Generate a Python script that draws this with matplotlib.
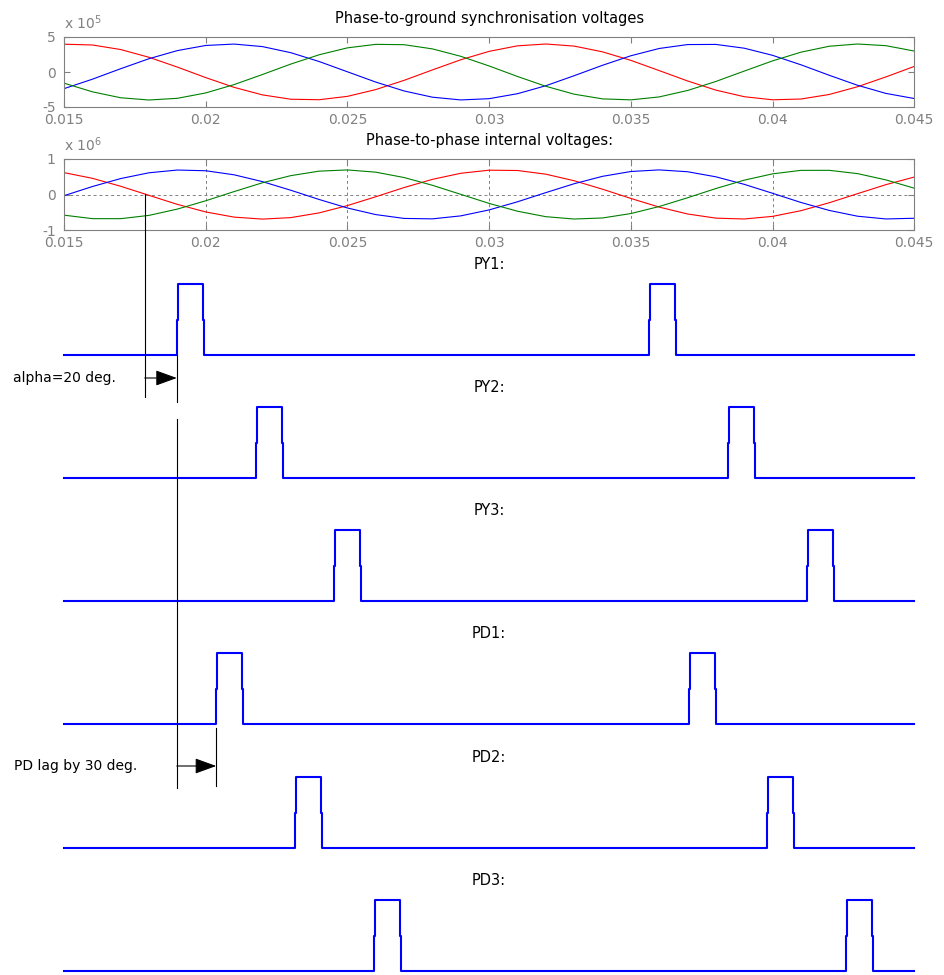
import matplotlib
matplotlib.use('Agg')
import matplotlib.pyplot as plt

plt.rcParams['font.family'] = ['DejaVu Sans']
plt.rcParams['mathtext.default'] = 'regular'
plt.rcParams['axes.unicode_minus'] = False

# sample times (ms)
t_ms = [15, 16, 17, 18, 19, 20, 21, 22, 23, 24, 25, 26, 27, 28, 29, 30,
        31, 32, 33, 34, 35, 36, 37, 38, 39, 40, 41, 42, 43, 44, 45]

# phase-to-ground synchronisation voltages (x 1e5)
va_gnd = [3.97, 3.86, 3.21, 2.10, 0.70, -0.80, -2.19, -3.27, -3.89, -3.96, -3.48,
          -2.51, -1.19, 0.30, 1.75, 2.95, 3.74, 4.00, 3.70, 2.88, 1.66, 0.20,
          -1.28, -2.59, -3.53, -3.97, -3.86, -3.21, -2.10, -0.70, 0.80]
vb_gnd = [-2.38, -1.03, 0.47, 1.90, 3.06, 3.79, 3.99, 3.63, 2.76, 1.50, 0.03,
          -1.44, -2.71, -3.60, -3.99, -3.81, -3.10, -1.96, -0.53, 0.96, 2.32,
          3.36, 3.92, 3.94, 3.40, 2.38, 1.03, -0.47, -1.90, -3.06, -3.79]
vc_gnd = [-1.59, -2.83, -3.68, -4.00, -3.76, -2.99, -1.80, -0.36, 1.13, 2.46, 3.45,
          3.95, 3.90, 3.30, 2.24, 0.86, -0.64, -2.04, -3.17, -3.84, -3.98, -3.56,
          -2.64, -1.35, 0.13, 1.59, 2.83, 3.68, 4.00, 3.76, 2.99]

# phase-to-phase internal voltages (x 1e6)
vab = [0.616, 0.456, 0.232, -0.024, -0.278, -0.492, -0.637, -0.693, -0.651, -0.518,
       -0.312, -0.063, 0.196, 0.427, 0.598, 0.685, 0.676, 0.572, 0.387, 0.149,
       -0.111, -0.355, -0.549, -0.666, -0.690, -0.616, -0.456, -0.232, 0.024,
       0.278, 0.492]
vbc = [-0.034, 0.224, 0.449, 0.612, 0.689, 0.669, 0.555, 0.363, 0.120, -0.140,
       -0.380, -0.566, -0.674, -0.686, -0.602, -0.434, -0.205, 0.053, 0.304,
       0.512, 0.648, 0.693, 0.641, 0.498, 0.286, 0.034, -0.224, -0.449, -0.612,
       -0.689, -0.669]
vca = [-0.582, -0.680, -0.681, -0.588, -0.411, -0.177, 0.082, 0.330, 0.531, 0.658,
       0.692, 0.629, 0.478, 0.259, 0.004, -0.251, -0.471, -0.625, -0.691, -0.661,
       -0.537, -0.338, -0.092, 0.168, 0.404, 0.582, 0.680, 0.681, 0.588, 0.411,
       0.177]

# firing pulses: rise / fall times (s)
pulse_names = ['PY1:', 'PY2:', 'PY3:', 'PD1:', 'PD2:', 'PD3:']
pulse_on = [[0.01898, 0.03565], [0.02176, 0.03843], [0.02454, 0.04120],
            [0.02037, 0.03704], [0.02315, 0.03981], [0.02592, 0.04259]]
pulse_off = [[0.01990, 0.03657], [0.02268, 0.03935], [0.02546, 0.04212],
             [0.02129, 0.03796], [0.02407, 0.04073], [0.02684, 0.04351]]

xticks = [0.015, 0.02, 0.025, 0.03, 0.035, 0.04, 0.045]
xticklabels = ['0.015', '0.02', '0.025', '0.03', '0.035', '0.04', '0.045']

t = [v / 1000.0 for v in t_ms]
gray = '#808080'
W, H = 945.0, 975.0
left_px, right_px = 64.0, 914.3

fig = plt.figure(figsize=(9.45, 9.75), dpi=100)


def box(top, bottom):
    return [left_px / W, 1 - bottom / H, (right_px - left_px) / W, (bottom - top) / H]


def style_axes(ax, ylim, yticks):
    ax.set_xlim(0.015, 0.045)
    ax.set_ylim(*ylim)
    ax.set_xticks(xticks)
    ax.set_xticklabels(xticklabels)
    ax.set_yticks(yticks)
    ax.tick_params(direction='in', length=4.5, width=0.8, colors=gray,
                   labelsize=10, top=True, right=True, pad=4)
    ax.tick_params(axis='y', pad=6)
    for s in ax.spines.values():
        s.set_color(gray)
        s.set_linewidth(0.8)


ax1 = fig.add_axes(box(37, 107))
ax1.plot(t, va_gnd, color='red', lw=0.8)
ax1.plot(t, vb_gnd, color='blue', lw=0.8)
ax1.plot(t, vc_gnd, color='green', lw=0.8)
style_axes(ax1, (-5, 5), [-5, 0, 5])
ax1.text(0.5, 1 + 19 / 70.0, 'Phase-to-ground synchronisation voltages',
         transform=ax1.transAxes, ha='center', va='center', fontsize=10.5)
ax1.text(0.0, 1 + 14 / 70.0, r'x 10$^{5}$', transform=ax1.transAxes,
         ha='left', va='center', fontsize=10, color=gray)

ax2 = fig.add_axes(box(159, 230))
ax2.plot(t, vab, color='red', lw=0.8)
ax2.plot(t, vbc, color='blue', lw=0.8)
ax2.plot(t, vca, color='green', lw=0.8)
style_axes(ax2, (-1, 1), [-1, 0, 1])
ax2.grid(True, linestyle=(0, (3, 3)), color=gray, lw=0.7)
ax2.text(0.5, 1 + 18 / 71.0, 'Phase-to-phase internal voltages:',
         transform=ax2.transAxes, ha='center', va='center', fontsize=10.5)
ax2.text(0.0, 1 + 14 / 71.0, r'x 10$^{6}$', transform=ax2.transAxes,
         ha='left', va='center', fontsize=10, color=gray)

# pulse panels
baselines = [355, 478, 601, 724, 848, 971]
pulse_h = 70.7
step = 3.5e-5
for name, ons, offs, b in zip(pulse_names, pulse_on, pulse_off, baselines):
    ax = fig.add_axes(box(b - 1.2 * pulse_h, b + 0.1 * pulse_h))
    xs, ys = [0.015], [0]
    for r, f in zip(ons, offs):
        xs += [r, r, r + step, r + step, f, f, f + step, f + step]
        ys += [0, 0.5, 0.5, 1, 1, 0.5, 0.5, 0]
    xs.append(0.045)
    ys.append(0)
    ax.plot(xs, ys, color='blue', lw=1.5, clip_on=False)
    ax.set_xlim(0.015, 0.045)
    ax.set_ylim(-0.1, 1.2)
    ax.axis('off')
    ax.text(0.5, 1 + 19.5 / pulse_h, name, transform=ax.get_yaxis_transform(),
            ha='center', va='center', fontsize=10.5)

# annotations: x in time, y in pixels
ov = fig.add_axes([left_px / W, 0, (right_px - left_px) / W, 1])
ov.set_xlim(0.015, 0.045)
ov.set_ylim(H, 0)
ov.axis('off')

t_zero = 0.01785
t_py1 = pulse_on[0][0]
t_pd1 = pulse_on[3][0]
ov.plot([t_zero, t_zero], [194, 397], color='k', lw=0.8)
ov.plot([t_py1, t_py1], [355, 402], color='k', lw=0.8)
ov.plot([t_py1, t_py1], [419, 788], color='k', lw=0.8)
ov.plot([t_pd1, t_pd1], [728, 786], color='k', lw=0.8)
arrow = dict(arrowstyle='-|>,head_length=1.1,head_width=0.4', color='k',
             lw=0.8, shrinkA=0, shrinkB=0, mutation_scale=12)
ov.annotate('', xy=(t_py1, 378), xytext=(t_zero, 378), arrowprops=arrow)
ov.annotate('', xy=(t_pd1, 766), xytext=(t_py1, 766), arrowprops=arrow)

fig.text(13 / W, 1 - 378 / H, 'alpha=20 deg.', ha='left', va='center', fontsize=10)
fig.text(14 / W, 1 - 766 / H, 'PD lag by 30 deg.', ha='left', va='center', fontsize=10)

fig.savefig('out.png', dpi=100)
